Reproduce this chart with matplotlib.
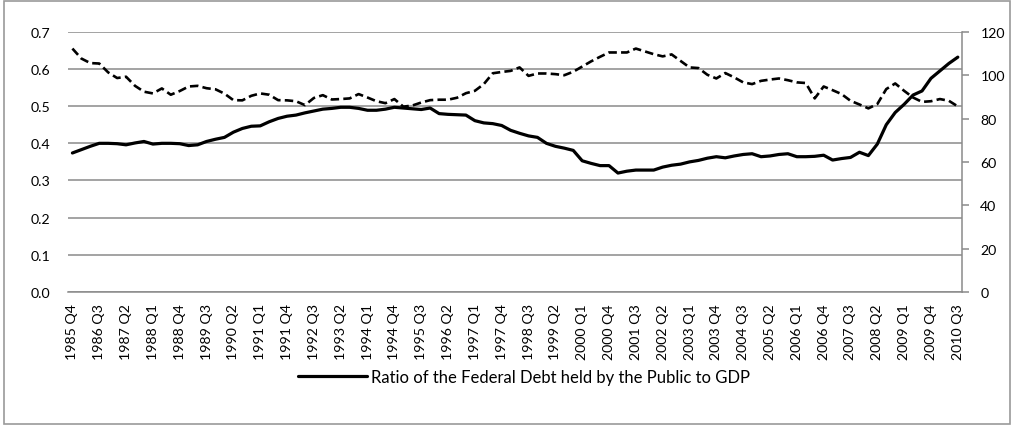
import numpy as np
import matplotlib.pyplot as plt
from matplotlib.patches import Rectangle

plt.rcParams['font.family'] = ['Lato', 'DejaVu Sans']

# quarters 1985 Q4 .. 2010 Q3
years = [1985] + [y for y in range(1986, 2010) for _ in range(4)] + [2010] * 3
quarters = [4] + [1, 2, 3, 4] * 24 + [1, 2, 3]
labels = ["%d Q%d" % (y, q) for y, q in zip(years, quarters)]

# debt held by the public / GDP (left axis)
debt_ratio = [
    0.374, 0.383, 0.392, 0.400, 0.400, 0.399, 0.396, 0.401, 0.405, 0.398,
    0.400, 0.400, 0.399, 0.394, 0.396, 0.405, 0.411, 0.416, 0.430, 0.440,
    0.446, 0.447, 0.458, 0.467, 0.473, 0.476, 0.482, 0.487, 0.492, 0.494,
    0.497, 0.497, 0.494, 0.489, 0.489, 0.492, 0.497, 0.495, 0.493, 0.491,
    0.495, 0.480, 0.478, 0.477, 0.476, 0.461, 0.455, 0.453, 0.448, 0.435,
    0.427, 0.420, 0.416, 0.400, 0.392, 0.387, 0.381, 0.353, 0.346, 0.340,
    0.340, 0.320, 0.325, 0.328, 0.328, 0.328, 0.336, 0.341, 0.344, 0.350,
    0.354, 0.360, 0.364, 0.361, 0.366, 0.370, 0.372, 0.364, 0.366, 0.370,
    0.372, 0.364, 0.364, 0.365, 0.368, 0.355, 0.359, 0.362, 0.376, 0.367,
    0.398, 0.450, 0.483, 0.505, 0.530, 0.541, 0.575, 0.595, 0.615, 0.632,
]

# second series, right axis
right_series = [
    112.3, 107.7, 105.6, 105.4, 101.3, 98.7, 99.3, 95.1, 92.4, 91.6,
    93.9, 91.0, 92.7, 94.8, 95.1, 94.0, 93.5, 91.5, 88.5, 88.4,
    90.5, 91.6, 91.0, 88.5, 88.4, 88.0, 86.2, 89.5, 90.8, 88.8,
    89.0, 89.3, 91.3, 89.7, 88.0, 87.1, 89.0, 85.5, 86.0, 87.4,
    88.5, 88.7, 88.7, 89.6, 91.7, 92.8, 95.9, 100.9, 101.5, 102.0,
    103.6, 99.7, 100.8, 100.8, 100.5, 100.0, 101.6, 104.0, 106.4, 108.5,
    110.5, 110.5, 110.5, 112.3, 111.0, 109.7, 108.7, 109.6, 106.6, 103.6,
    103.3, 100.2, 98.5, 101.0, 99.0, 96.7, 95.9, 97.4, 98.0, 98.5,
    97.7, 96.7, 96.4, 89.3, 94.8, 93.1, 91.3, 88.2, 86.5, 84.7,
    86.7, 93.6, 96.2, 92.8, 89.7, 87.7, 88.0, 89.0, 88.2, 85.6,
]

left_ticks = [0.0, 0.1, 0.2, 0.3, 0.4, 0.5, 0.6, 0.7]
right_ticks = [0, 20, 40, 60, 80, 100, 120]

grey = "#8a8a8a"
fs = 10.2
x = np.arange(len(labels))

fig = plt.figure(figsize=(10.14, 4.27), dpi=100)
fig.patches.append(Rectangle((0.004, 0.004), 0.992, 0.992, transform=fig.transFigure,
                             fill=False, edgecolor="#9a9a9a", linewidth=1.2))
ax = fig.add_axes([0.067, 0.314, 0.882, 0.609])
ax2 = ax.twinx()

ax.plot(x, debt_ratio, color="black", linewidth=2.3, solid_capstyle="round",
        label="Ratio of the Federal Debt held by the Public to GDP", zorder=3)
ax2.plot(x, right_series, color="black", linewidth=1.9, dashes=(3.2, 1.6))

ax.set_xlim(-0.5, len(labels) - 0.5)
ax.set_ylim(0, 0.7)
ax2.set_ylim(0, 120)
ax.set_yticks(left_ticks)
ax.set_yticklabels(["%.1f" % v for v in left_ticks])
ax2.set_yticks(right_ticks)
ax.set_xticks(x[::3])
ax.set_xticklabels(labels[::3], rotation=90)

ax.grid(axis="y", color=grey, linewidth=1.1)
ax.set_axisbelow(True)
for s in ["top", "left", "right"]:
    ax.spines[s].set_visible(False)
ax.spines["bottom"].set_color(grey)
ax.spines["bottom"].set_linewidth(1.1)
for s in ["top", "left", "bottom"]:
    ax2.spines[s].set_visible(False)
ax2.spines["right"].set_color(grey)
ax2.spines["right"].set_linewidth(1.1)

ax.tick_params(axis="y", length=0, pad=13, labelsize=fs, colors="black")
ax.tick_params(axis="x", length=0, pad=8, labelsize=fs)
ax2.tick_params(axis="y", length=5, width=1.1, color=grey, pad=8, labelsize=fs)

fig.legend(loc="center", bbox_to_anchor=(0.517, 0.115), frameon=False,
           handlelength=4.1, handletextpad=0.25, fontsize=12)

fig.savefig("out.png", dpi=100)
